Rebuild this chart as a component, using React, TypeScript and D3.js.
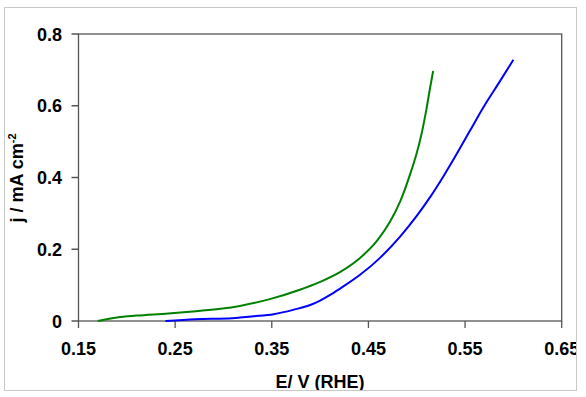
import React from "react";
import * as d3 from "d3";

const greenE = [0.17, 0.19, 0.21, 0.243, 0.265, 0.297, 0.317, 0.348, 0.379, 0.40, 0.421, 0.441, 0.459, 0.472, 0.483, 0.493, 0.50, 0.505, 0.51, 0.514, 0.517];
const greenJ = [0, 0.010, 0.015, 0.021, 0.026, 0.034, 0.042, 0.061, 0.087, 0.109, 0.137, 0.175, 0.224, 0.275, 0.334, 0.408, 0.468, 0.522, 0.59, 0.653, 0.697];

const blueE = [0.24, 0.271, 0.309, 0.331, 0.352, 0.372, 0.393, 0.40, 0.41, 0.421, 0.441, 0.462, 0.483, 0.50, 0.514, 0.528, 0.541, 0.555, 0.569, 0.586, 0.60];
const blueJ = [0, 0.005, 0.008, 0.013, 0.019, 0.031, 0.048, 0.057, 0.072, 0.091, 0.128, 0.176, 0.236, 0.293, 0.346, 0.405, 0.464, 0.53, 0.596, 0.668, 0.728];

const xTicks = [0.15, 0.25, 0.35, 0.45, 0.55, 0.65];
const xTickLabels = ["0.15", "0.25", "0.35", "0.45", "0.55", "0.65"];
const yTicks = [0, 0.2, 0.4, 0.6, 0.8];
const yTickLabels = ["0", "0.2", "0.4", "0.6", "0.8"];

const W = 586;
const H = 397;
const left = 78.5;
const right = 561.7;
const top = 34;
const bottom = 321;

export default function App() {
  const x = d3.scaleLinear().domain([0.15, 0.65]).range([left, right]);
  const y = d3.scaleLinear().domain([0, 0.8]).range([bottom, top]);
  const line = d3
    .line<[number, number]>()
    .x((d) => x(d[0]))
    .y((d) => y(d[1]))
    .curve(d3.curveMonotoneX);
  const green = greenE.map((e, i) => [e, greenJ[i]] as [number, number]);
  const blue = blueE.map((e, i) => [e, blueJ[i]] as [number, number]);
  const font = "'Liberation Sans', Arial, sans-serif";
  const axisColor = "#555";

  return (
    <svg
      width={W}
      height={H}
      style={{ position: "absolute", left: 0, top: 0, display: "block" }}
      fontFamily={font}
    >
      <rect x={0} y={0} width={W} height={H} fill="#fff" />
      <defs>
        <clipPath id="outer">
          <rect x={4.5} y={7.5} width={572} height={383} />
        </clipPath>
      </defs>
      <g clipPath="url(#outer)">
        <rect x={left} y={top} width={right - left} height={bottom - top} fill="none" stroke={axisColor} strokeWidth={1.3} />
        {xTicks.map((t, i) => (
          <g key={"xt" + i}>
            <line x1={x(t)} x2={x(t)} y1={bottom} y2={bottom + 7} stroke={axisColor} strokeWidth={1.3} />
            <text x={x(t)} y={355} textAnchor="middle" fontSize={18} fontWeight="bold" fill="#000">
              {xTickLabels[i]}
            </text>
          </g>
        ))}
        {yTicks.map((t, i) => (
          <g key={"yt" + i}>
            <line x1={left - 7} x2={left} y1={y(t)} y2={y(t)} stroke={axisColor} strokeWidth={1.3} />
            <text x={62} y={y(t) + 6.5} textAnchor="end" fontSize={18} fontWeight="bold" fill="#000">
              {yTickLabels[i]}
            </text>
          </g>
        ))}
        <path d={line(green) || ""} fill="none" stroke="#008000" strokeWidth={2} />
        <path d={line(blue) || ""} fill="none" stroke="#0000ff" strokeWidth={2} />
        <text x={320} y={387.5} textAnchor="middle" fontSize={18} fontWeight="bold" fill="#000">
          E/ V (RHE)
        </text>
        <text
          transform={`translate(23, 178) rotate(-90)`}
          textAnchor="middle"
          fontSize={18}
          fontWeight="bold"
          fill="#000"
        >
          j / mA cm
          <tspan fontSize={11} dy={-7}>-2</tspan>
        </text>
      </g>
      <rect x={4.5} y={7.5} width={572} height={383} fill="none" stroke="#c8c8c8" strokeWidth={1} />
    </svg>
  );
}
